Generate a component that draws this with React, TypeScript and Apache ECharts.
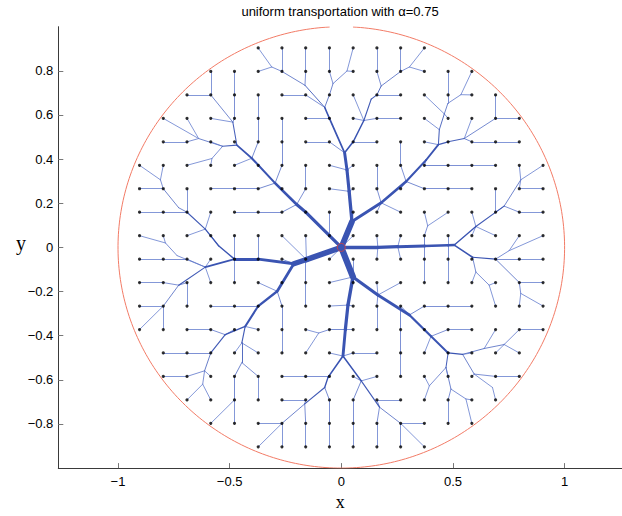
import React, { useEffect, useRef } from 'react';
import * as echarts from 'echarts';

const TITLE = 'uniform transportation with α=0.75';
const X_TICKS = [-1, -0.5, 0, 0.5, 1];
const Y_TICKS = [-0.8, -0.6, -0.4, -0.2, 0, 0.2, 0.4, 0.6, 0.8];
const X_RANGE = [-1.2674, 1.2571];
const Y_RANGE = [-1, 1];

// regular sample grid (column / row indices), spacing in data units
const GRID_STEP = 0.1063;
const GRID_CENTER = 8.5;
const ROW_FIRST = [5, 3, 2, 1, 1, 0, 0, 0, 0, 0, 0, 0, 0, 1, 1, 2, 3, 5];
const ROW_LAST = [12, 14, 15, 16, 16, 17, 17, 17, 17, 17, 17, 17, 17, 16, 16, 15, 14, 12];

const CIRCLE_RADIUS = 1;
const CIRCLE_GAP_DEG = 6;

// branching (Steiner) points, in grid index units [name, column, row]
const STEINER: [string, number, number][] = [
  ['S', 8.5, 8.5],
  ['A1', 8.95, 7.4], ['U2', 8.83, 6.11], ['U1', 8.74, 5.2], ['A2', 8.64, 4.47],
  ['T2', 7.8, 2.53], ['T3', 8.15, 1.52], ['T4', 6.97, 1.59], ['T5', 8.74, 0.98], ['T6', 5.57, 0.81],
  ['R2', 9.45, 3.09], ['R3', 9.76, 2.18], ['R4', 10.18, 1.62], ['R5', 11.37, 0.81],
  ['Q1', 10.18, 6.6], ['Q2', 11.23, 5.69], ['Q3', 12.07, 4.78], ['Q4', 12.59, 4.12], ['Q5', 12.63, 3.48],
  ['Q6', 12.84, 2.81], ['Q7', 12.99, 2.36], ['Q8', 13.54, 1.99], ['Q9', 13.68, 3.86],
  ['Rt1', 10.04, 8.5], ['Rt2', 10.88, 8.47], ['Rt3', 12.0, 8.44], ['Rt4', 12.99, 8.41], ['Rt5', 13.26, 8.4],
  ['W1', 12.14, 7.58], ['V1', 14.17, 7.61], ['V2', 15.36, 6.74], ['V3', 16.06, 5.62], ['V4', 14.03, 8.92],
  ['V6', 15.57, 8.64], ['V7', 14.17, 9.55], ['V8', 14.73, 10.11], ['V9', 16.06, 10.46],
  ['D1', 8.99, 9.76], ['E1', 10.04, 10.53], ['E2', 11.37, 11.38], ['E3', 12.28, 12.29],
  ['F1', 13.61, 13.06], ['F2', 14.52, 12.81], ['F3', 15.36, 12.64],
  ['G1', 12.91, 13.62], ['G3', 12.21, 14.4], ['G4', 13.12, 14.54], ['G5', 13.75, 14.96], ['G6', 14.1, 13.9], ['G7', 14.87, 14.47],
  ['D2', 8.78, 10.96], ['D2b', 8.67, 12.01], ['D3', 8.57, 13.13],
  ['H1', 7.94, 14.04], ['H2', 7.8, 14.47], ['H3', 6.96, 15.17], ['K1', 9.34, 14.19], ['K2', 10.11, 15.31], ['X1', 7.55, 12.15],
  ['L0', 7.03, 9.02], ['L1', 6.5, 9.2], ['L4', 2.77, 9.34], ['L5', 1.65, 10.11],
  ['P1', 0.88, 5.62], ['P2', 1.65, 6.81], ['P3', 2.77, 7.72], ['P4', 3.33, 8.43], ['P5', 1.09, 8.31], ['P6', 1.58, 8.85],
  ['LD1', 5.8, 10.37], ['LD3', 4.45, 11.87], ['LD4', 3.61, 12.22], ['LD5', 4.31, 12.57], ['LD6', 4.31, 13.41],
  ['LD9', 2.74, 13.76], ['LD10', 2.66, 14.33],
  ['B1', 6.62, 6.67], ['B2', 5.71, 5.76], ['B3', 4.73, 4.7], ['B4', 4.1, 4.14],
  ['M1', 3.5, 4.19], ['M2', 2.49, 3.86], ['M3', 3.05, 4.71], ['N1', 3.93, 3.16],
];

// tree edges "child>parent" (grid points as "col,row")
const EDGES_UP = [
  'A1>S', 'U2>A1', 'U1>U2', 'A2>U1', '9,7>A1',
  '8,5>U1', '9,5>U1', '8,6>U2', '9,6>U2',
  '8,4>A2', '7,4>8,4', '8,3>A2', '7,3>8,3',
  'T2>8,3', '8,2>T2', 'T3>8,2', 'T4>T2', '7,2>T2', '6,2>7,2',
  '8,1>T3', '8,0>8,1', 'T5>T3', '9,1>T5', '9,0>T5',
  '7,1>T4', '7,0>7,1', '6,1>T4', '6,0>6,1', 'T6>6,1', '5,0>T6', '5,1>T6',
  '9,4>A2', '10,4>9,4', 'R2>9,4', '9,3>R2', '10,3>R2', '11,3>10,3', '9,2>R2',
  'R3>R2', '10,2>R3', '11,2>10,2', 'R4>10,2', '10,1>R4', '10,0>10,1', '11,1>R4', '11,0>11,1',
  'R5>11,1', '12,0>R5', '12,1>R5',
];
const EDGES_UPPER_RIGHT = [
  'Q1>A1', 'Q2>Q1', 'Q3>Q2', 'Q4>Q3',
  '10,6>Q1', '10,5>10,6', '11,7>Q1', '10,7>Q1',
  '11,6>Q2', '11,5>Q2', '11,4>11,5',
  '12,6>Q2', '13,6>12,6', '14,6>13,6',
  '12,5>Q3', '13,5>12,5', '14,5>13,5', '15,5>14,5',
  '12,4>Q4', 'Q5>Q4', '12,3>Q5', 'Q6>Q5', '13,3>Q6', '12,2>Q6',
  'Q7>Q6', '13,2>Q7', '13,1>13,2', 'Q8>Q7', '14,1>Q8', '14,2>Q8',
  '13,4>Q4', 'Q9>13,4', '14,3>Q9', '15,3>Q9', '16,3>15,3', '15,2>15,3',
  '14,4>Q9', '15,4>14,4', '16,4>15,4',
];
const EDGES_RIGHT = [
  'Rt1>S', 'Rt2>Rt1', 'Rt3>Rt2', 'Rt4>Rt3', 'Rt5>Rt4',
  '9,8>S', '10,8>Rt1', '10,9>Rt1', '11,8>Rt2', '11,9>Rt2',
  '12,8>Rt3', 'W1>12,8', '12,7>W1', '13,7>W1', '12,9>Rt3', '12,10>12,9',
  '13,8>Rt4', '13,9>Rt4', '13,10>13,9',
  'V1>Rt5', '14,7>V1', '15,8>V1', '14,8>V1',
  'V2>V1', '15,7>V2', '15,6>15,7', '16,7>V2', '17,7>16,7',
  'V3>V2', '16,5>V3', '17,5>V3', '16,6>V3', '17,6>16,6',
  'V4>Rt5', '14,9>V4', '15,9>V4', '16,9>15,9', '17,9>16,9',
  'V6>15,9', '16,8>V6', '17,8>V6',
  'V7>V4', '14,10>V7', 'V8>V7', '15,10>V8', '15,11>V8',
  '16,10>15,9', '17,10>16,10', 'V9>16,10', '16,11>V9', '17,11>V9',
];
const EDGES_DOWN_RIGHT = [
  'D1>S', '9,9>D1', '9,10>D1', '8,10>D1',
  'E1>D1', 'E2>E1', 'E3>E2', '13,13>E3',
  '10,10>E1', '11,10>E1', '10,11>E1', '10,12>10,11',
  '11,11>E2', '11,12>11,11', '11,13>11,12', '11,14>11,13',
  '12,11>E2', '13,11>12,11', '14,11>13,11',
  '12,12>E3', '13,12>E3', '14,12>13,12', '12,13>E3',
  'F1>13,13', '14,13>F1', 'F2>F1', '15,12>F2', 'F3>F2', '16,12>F3', '17,12>16,12', '15,13>F3', '16,13>F3',
  'G1>13,13', '13,14>G1', 'G3>G1', '12,14>G3', '12,15>G3',
  'G4>G1', '13,15>G4', '13,16>13,15', 'G5>G4', '14,16>G5', '14,15>G5',
  'G6>F1', '14,14>G6', '15,14>G6', '16,14>15,14', 'G7>G6', '15,15>G7',
];
const EDGES_DOWN = [
  'D2>D1', 'D2b>D2', 'D3>D2b',
  '8,11>D2', '9,11>D2', '9,12>D2b', '8,12>D2b', 'X1>8,12', '7,12>X1', '7,13>X1',
  '9,13>D3', '10,13>9,13', '8,13>D3',
  'H1>D3', '8,14>H1', '7,14>8,14', '6,14>7,14',
  'H2>H1', '8,15>H2', '8,16>8,15', '8,17>8,16',
  'H3>H2', '7,15>H3', '6,15>7,15', '7,16>H3', '7,17>7,16',
  '6,16>H3', '6,17>6,16', '5,16>6,16', '5,17>6,16',
  'K1>D3', '9,14>K1', '10,14>K1', '9,15>K1', '9,16>9,15', '9,17>9,16',
  'K2>K1', '10,15>K2', '11,15>10,15', '11,16>K2', '11,17>11,16', '12,16>11,16', '12,17>11,16',
  '10,16>K2', '10,17>10,16',
];
const EDGES_LEFT = [
  'L0>S', 'L1>L0', '5,9>L1', '4,9>5,9', 'L4>4,9',
  '7,8>L0', '6,8>L0', '7,9>L0', '7,10>7,9', '7,11>7,10', '8,9>S', '6,9>L1',
  '5,8>5,9', '4,8>4,9', '4,10>4,9',
  '3,9>L4', '3,10>L4', '2,9>L4', '1,9>2,9', '0,9>1,9',
  'L5>L4', '1,10>L5', '0,10>1,10', '2,10>L5', '2,11>2,10',
  '1,11>L5', '0,11>1,11', '1,12>1,11', '0,12>1,11',
  'P6>L4', 'P5>P6', '0,8>P5', '1,8>P5',
  'P4>4,9', '3,8>P4', 'P3>P4', '3,7>P3', '2,8>P3', '2,7>P3',
  'P2>2,7', '2,6>2,7', '1,7>2,7', '0,7>1,7', '1,6>P2', '0,6>1,6', 'P1>1,6', '0,5>P1', '1,5>P1',
];
const EDGES_LOWER_LEFT = [
  'LD1>L1', '6,10>LD1', '5,10>LD1', '6,11>LD1', '6,12>6,11', '6,13>6,12',
  '5,11>LD1', '4,11>5,11', '3,11>4,11',
  'LD3>5,11', '5,12>LD3', 'LD4>LD3', '4,12>LD4', '3,12>LD4', '2,12>3,12',
  'LD5>LD3', '5,13>LD5', '4,13>LD5', 'LD6>LD5', '5,14>LD6', '4,14>LD6', '5,15>5,14',
  '4,15>4,14', '4,16>4,15', '3,16>4,15',
  '3,13>LD4', '2,13>3,13', '1,13>2,13',
  'LD9>3,13', '3,14>LD9', '2,14>LD9', '1,14>2,14', 'LD10>LD9', '2,15>LD10', '3,15>LD10',
];
const EDGES_UPPER_LEFT = [
  '8,8>S', '8,7>8,8', '7,7>8,8', 'B1>7,7', 'B2>B1', 'B3>B2', 'B4>B3',
  '7,6>B1', '7,5>7,6', '6,7>B1', '5,7>6,7', '4,7>5,7',
  '6,6>B2', '5,6>B2', '4,6>5,6', '3,6>4,6', '6,5>B2', '6,4>6,5', '6,3>6,4',
  '5,5>B3', '4,5>B3', '5,4>B3', '5,3>5,4', '5,2>5,3',
  '4,4>B4', 'M1>B4', '3,4>M1', 'M2>M1', '2,4>M2', '1,4>2,4', '2,3>M2', '1,3>M2',
  'M3>M1', '3,5>M3', '2,5>M3',
  'N1>B4', '4,3>N1', '4,2>4,3', '4,1>4,2', '3,2>N1', '3,1>3,2', '2,2>3,2', '3,3>N1',
];

const ALL_EDGES = [
  ...EDGES_UP, ...EDGES_UPPER_RIGHT, ...EDGES_RIGHT, ...EDGES_DOWN_RIGHT,
  ...EDGES_DOWN, ...EDGES_LEFT, ...EDGES_LOWER_LEFT, ...EDGES_UPPER_LEFT,
];

const FONT = 'Liberation Sans, Arial, Helvetica, sans-serif';
const SERIF = 'Liberation Serif, Times New Roman, serif';
const TREE_DARK = [58, 84, 178];
const TREE_LIGHT = [118, 140, 212];
const CIRCLE_COLOR = '#f27b66';

function toXY(c: number, r: number): [number, number] {
  return [(c - GRID_CENTER) * GRID_STEP, (GRID_CENTER - r) * GRID_STEP];
}

function buildData() {
  const steiner: Record<string, [number, number]> = {};
  STEINER.forEach(([n, c, r]) => { steiner[n] = [c, r]; });
  const pos = (key: string): [number, number] => {
    if (steiner[key]) return toXY(steiner[key][0], steiner[key][1]);
    const [i, j] = key.split(',').map(Number);
    return toXY(i, j);
  };
  const gridKeys: string[] = [];
  for (let j = 0; j < ROW_FIRST.length; j++) {
    for (let i = ROW_FIRST[j]; i <= ROW_LAST[j]; i++) gridKeys.push(`${i},${j}`);
  }
  const parent = new Map<string, string>();
  ALL_EDGES.forEach((e) => {
    const [c, p] = e.split('>');
    parent.set(c, p);
  });
  const flow: Record<string, number> = {};
  gridKeys.forEach((g) => {
    let n: string | undefined = g;
    let guard = 0;
    while (n && n !== 'S' && guard < 200) {
      flow[n] = (flow[n] || 0) + 1;
      n = parent.get(n);
      guard++;
    }
  });
  const lines: any[] = [];
  parent.forEach((p, c) => {
    const f = flow[c] || 0;
    const w = Math.max(0.9, 0.5 + 0.08 * f);
    const t = Math.min(1, Math.max(0, (f - 1) / 8));
    const col = TREE_LIGHT.map((v, k) => Math.round(v + (TREE_DARK[k] - v) * t));
    lines.push({ f, coords: [pos(c), pos(p)], lineStyle: { width: w, color: `rgb(${col.join(',')})` } });
  });
  lines.sort((a, b) => a.f - b.f);
  const points = gridKeys.map(pos);
  return { lines: lines.map(({ coords, lineStyle }) => ({ coords, lineStyle })), points };
}

const fmt = (v: number) => (v < 0 ? '\u2212' + String(Math.abs(v)) : String(v));

export default function App() {
  const ref = useRef<HTMLDivElement>(null);
  useEffect(() => {
    if (!ref.current) return;
    const chart = echarts.init(ref.current, undefined, { renderer: 'svg' });
    const { lines, points } = buildData();
    const circle: [number, number][] = [];
    const N = 360;
    for (let k = 0; k <= N; k++) {
      const a = ((90 + CIRCLE_GAP_DEG / 2 + (k * (360 - CIRCLE_GAP_DEG)) / N) * Math.PI) / 180;
      circle.push([CIRCLE_RADIUS * Math.cos(a), CIRCLE_RADIUS * Math.sin(a)]);
    }
    chart.setOption({
      animation: false,
      backgroundColor: '#fff',
      title: {
        text: TITLE,
        left: 340,
        top: 5,
        padding: 0,
        textAlign: 'center',
        textStyle: { fontSize: 13, fontWeight: 'normal', color: '#000', fontFamily: FONT },
      },
      graphic: [
        {
          type: 'text',
          x: 21,
          y: 243,
          style: {
            text: 'y',
            fontFamily: SERIF,
            fontSize: 20,
            fill: '#000',
            textAlign: 'center',
            textVerticalAlign: 'middle',
          },
        },
      ],
      grid: { left: 58.3, top: 26.7, right: 0, bottom: 42 },
      xAxis: {
        type: 'value',
        min: X_RANGE[0],
        max: X_RANGE[1],
        axisLine: { show: true, onZero: false, lineStyle: { color: '#3a3a3a', width: 1 } },
        axisTick: { show: true, inside: true, length: 5, customValues: X_TICKS, lineStyle: { color: '#777' } },
        axisLabel: { customValues: X_TICKS, formatter: fmt, fontSize: 13, color: '#000', fontFamily: FONT, margin: 7 },
        splitLine: { show: false },
        name: 'x',
        nameLocation: 'middle',
        nameGap: 20,
        nameTextStyle: { fontFamily: SERIF, fontSize: 18, color: '#000' },
      },
      yAxis: {
        type: 'value',
        min: Y_RANGE[0],
        max: Y_RANGE[1],
        axisLine: { show: true, onZero: false, lineStyle: { color: '#3a3a3a', width: 1 } },
        axisTick: { show: true, inside: true, length: 5, customValues: Y_TICKS, lineStyle: { color: '#777' } },
        axisLabel: { customValues: Y_TICKS, formatter: fmt, fontSize: 13, color: '#000', fontFamily: FONT, margin: 5 },
        splitLine: { show: false },
      },
      series: [
        {
          type: 'line',
          data: circle,
          showSymbol: false,
          symbol: 'none',
          silent: true,
          lineStyle: { color: CIRCLE_COLOR, width: 1 },
          z: 1,
        },
        {
          type: 'lines',
          coordinateSystem: 'cartesian2d',
          silent: true,
          lineStyle: { opacity: 1, cap: 'round', join: 'round' },
          data: lines,
          z: 2,
        },
        {
          type: 'scatter',
          data: points,
          symbolSize: 3.2,
          silent: true,
          itemStyle: { color: '#000' },
          z: 3,
        },
        {
          type: 'scatter',
          data: [[0, 0]],
          symbolSize: 8,
          silent: true,
          itemStyle: { color: 'rgba(0,0,0,0)', borderColor: '#e0403a', borderWidth: 1 },
          z: 4,
        },
      ],
    });
    return () => chart.dispose();
  }, []);
  return (
    <div
      ref={ref}
      style={{ position: 'absolute', left: 0, top: 0, width: 622, height: 516, background: '#fff' }}
    />
  );
}
